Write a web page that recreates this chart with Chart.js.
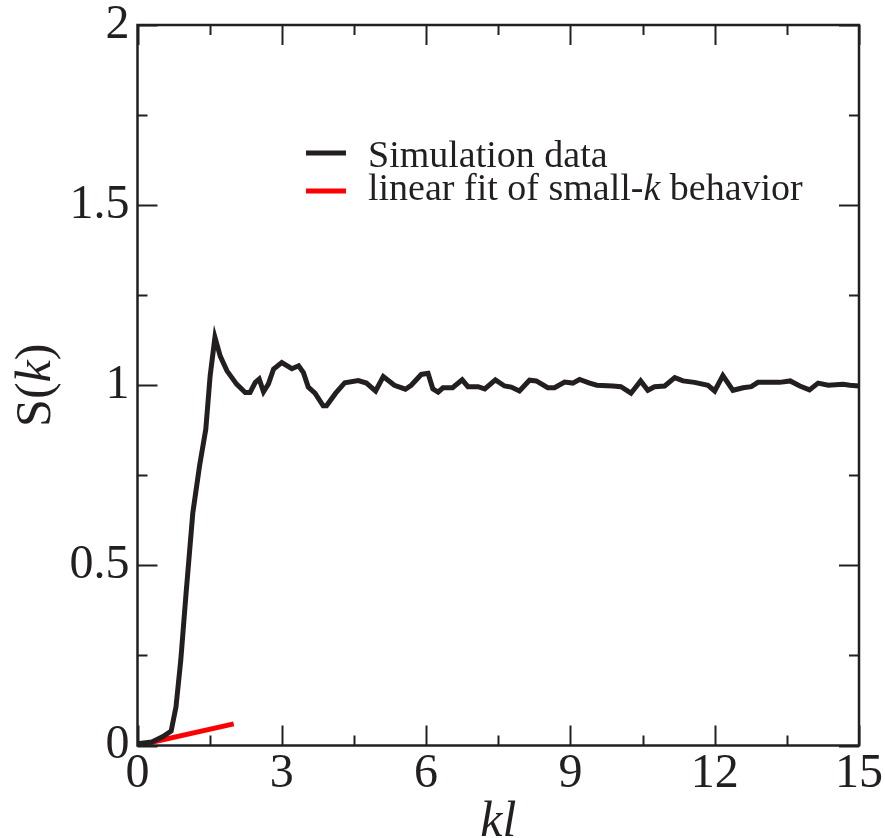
<!DOCTYPE html>
<html>
<head>
<meta charset="utf-8">
<script src="https://cdn.jsdelivr.net/npm/chart.js@4"></script>
<style>
  html, body { margin: 0; padding: 0; background: #fff; }
  #wrap { width: 885px; height: 838px; position: relative; }
</style>
</head>
<body>
<div id="wrap"><canvas id="c" width="885" height="838"></canvas></div>
<script>
// ---- data ----
const simKl = [0, 0.3, 0.53, 0.70, 0.80, 0.90, 1.01, 1.15, 1.29, 1.42, 1.51, 1.61, 1.72, 1.86, 2.06, 2.24,
  2.34, 2.45, 2.53, 2.62, 2.72, 2.83, 3.00, 3.21, 3.35, 3.45, 3.55, 3.69, 3.86, 3.93, 4.12,
  4.31, 4.59, 4.76, 4.95, 5.11, 5.34, 5.57, 5.69, 5.90, 6.04, 6.14, 6.25, 6.35, 6.55, 6.75,
  6.87, 7.08, 7.22, 7.44, 7.63, 7.77, 7.94, 8.15, 8.29, 8.53, 8.67, 8.88, 9.05, 9.19, 9.40,
  9.55, 9.88, 10.05, 10.26, 10.46, 10.61, 10.75, 10.96, 11.17, 11.34, 11.58, 11.86, 12.00, 12.17, 12.38,
  12.59, 12.76, 12.90, 13.35, 13.57, 13.77, 13.97, 14.15, 14.36, 14.67, 14.81, 15.0];
const simS = [0.005, 0.01, 0.025, 0.04, 0.107, 0.237, 0.423, 0.646, 0.776, 0.878, 1.026, 1.133, 1.081, 1.04, 1.003, 0.98,
  0.98, 1.008, 1.017, 0.982, 1.003, 1.045, 1.063, 1.046, 1.054, 1.035, 0.995, 0.978, 0.943, 0.943, 0.978,
  1.007, 1.013, 1.006, 0.984, 1.024, 1.0, 0.989, 1.0, 1.03, 1.033, 0.99, 0.981, 0.993, 0.993, 1.015,
  0.996, 0.996, 0.99, 1.015, 0.998, 0.995, 0.984, 1.014, 1.012, 0.993, 0.993, 1.009, 1.006, 1.016, 1.006,
  1.0, 0.998, 0.996, 0.978, 1.012, 0.986, 0.996, 0.998, 1.021, 1.012, 1.008, 1.0, 0.984, 1.027, 0.986,
  0.993, 0.996, 1.008, 1.008, 1.012, 0.998, 0.987, 1.006, 1.0, 1.003, 1.0, 0.998];
const fitKl = [0, 2.0];
const fitS = [0, 0.06];
const seriesLabels = ['Simulation data', 'linear fit of small-k behavior'];
const xTitle = 'kl';
const yTitle = 'S(k)';
const xRange = [0, 15];
const yRange = [0, 2];
const xStep = 3;
const yStep = 0.5;

const INK = '#231f20';
const SERIF = '"Liberation Serif", "Times New Roman", serif';

function toPoints(xs, ys) { return xs.map((x, i) => ({ x: x, y: ys[i] })); }

// draw a string in which a lone "k" (after "-" or "(") is set in italics
function drawMixed(ctx, text, x, y, size, align) {
  const parts = [];
  const re = /(?<=[-(])k(?=[\s)]|$)/g;
  let last = 0, m;
  while ((m = re.exec(text)) !== null) {
    if (m.index > last) parts.push({ t: text.slice(last, m.index), it: false });
    parts.push({ t: 'k', it: true });
    last = m.index + 1;
  }
  if (last < text.length) parts.push({ t: text.slice(last), it: false });
  let total = 0;
  parts.forEach(p => { ctx.font = (p.it ? 'italic ' : '') + size + 'px ' + SERIF; p.w = ctx.measureText(p.t).width; total += p.w; });
  let cx = align === 'center' ? x - total / 2 : x;
  ctx.textAlign = 'left';
  parts.forEach(p => { ctx.font = (p.it ? 'italic ' : '') + size + 'px ' + SERIF; ctx.fillText(p.t, cx, y); cx += p.w; });
}

const framePlugin = {
  id: 'frame',
  afterDatasetsDraw(chart) {
    const { ctx, chartArea: a, scales } = chart;
    const xs = scales.x, ys = scales.y;
    ctx.save();
    ctx.strokeStyle = INK;
    // inward ticks on all four sides
    ctx.lineWidth = 2;
    for (let v = xRange[0]; v <= xRange[1] + 1e-9; v += xStep / 2) {
      const major = Math.abs(v / xStep - Math.round(v / xStep)) < 1e-6;
      const L = major ? 20 : 10;
      const px = Math.round(xs.getPixelForValue(v)) + 0.5;
      ctx.beginPath();
      ctx.moveTo(px, a.bottom); ctx.lineTo(px, a.bottom - L);
      ctx.moveTo(px, a.top); ctx.lineTo(px, a.top + L);
      ctx.stroke();
    }
    for (let v = yRange[0]; v <= yRange[1] + 1e-9; v += yStep / 2) {
      const major = Math.abs(v / yStep - Math.round(v / yStep)) < 1e-6;
      const L = major ? 20 : 10;
      const py = Math.round(ys.getPixelForValue(v)) + 0.5;
      ctx.beginPath();
      ctx.moveTo(a.left, py); ctx.lineTo(a.left + L, py);
      ctx.moveTo(a.right, py); ctx.lineTo(a.right - L, py);
      ctx.stroke();
    }
    // frame
    ctx.lineWidth = 2.5;
    ctx.strokeRect(a.left, a.top, a.right - a.left, a.bottom - a.top);

    // axis titles
    ctx.fillStyle = INK;
    ctx.textBaseline = 'alphabetic';
    ctx.font = 'italic 50px ' + SERIF;
    ctx.textAlign = 'center';
    ctx.fillText(xTitle, (a.left + a.right) / 2, 836);
    ctx.save();
    ctx.translate(50, (a.top + a.bottom) / 2);
    ctx.rotate(-Math.PI / 2);
    drawMixed(ctx, yTitle, 0, 0, 50, 'center');
    ctx.restore();

    // legend
    const rows = [{ lineY: 153, base: 167 }, { lineY: 191, base: 200 }];
    chart.data.datasets.forEach((ds, i) => {
      const r = rows[i];
      ctx.strokeStyle = ds.borderColor;
      ctx.lineWidth = 5;
      ctx.beginPath();
      ctx.moveTo(306, r.lineY); ctx.lineTo(346, r.lineY);
      ctx.stroke();
      ctx.fillStyle = INK;
      drawMixed(ctx, ds.label, 368, r.base, 38, 'left');
    });
    ctx.restore();
  }
};

const fmt = v => String(v);

new Chart(document.getElementById('c'), {
  type: 'line',
  data: {
    datasets: [
      { label: seriesLabels[0], data: toPoints(simKl, simS), borderColor: INK, borderWidth: 5,
        pointRadius: 0, tension: 0, borderJoinStyle: 'miter', fill: false },
      { label: seriesLabels[1], data: toPoints(fitKl, fitS), borderColor: '#ff0000', borderWidth: 5,
        pointRadius: 0, tension: 0, fill: false }
    ]
  },
  options: {
    responsive: false,
    animation: false,
    events: [],
    layout: { padding: { top: 25, right: 26, left: 0, bottom: 0 } },
    plugins: { legend: { display: false }, tooltip: { enabled: false }, title: { display: false } },
    scales: {
      x: {
        type: 'linear', min: xRange[0], max: xRange[1],
        grid: { display: false, drawTicks: false },
        border: { display: false },
        ticks: { stepSize: xStep, padding: 5, color: INK, maxRotation: 0, callback: fmt,
                 font: { family: SERIF, size: 48, lineHeight: 1.0 } },
        afterFit(s) { s.height = 92.5; s.paddingLeft = 0; s.paddingRight = 0; }
      },
      y: {
        type: 'linear', min: yRange[0], max: yRange[1],
        grid: { display: false, drawTicks: false },
        border: { display: false },
        ticks: { stepSize: yStep, padding: 8, color: INK, callback: fmt,
                 font: { family: SERIF, size: 48, lineHeight: 1.0 } },
        afterFit(s) { s.width = 137.5; s.paddingTop = 0; s.paddingBottom = 0; }
      }
    }
  },
  plugins: [framePlugin]
});
</script>
</body>
</html>
